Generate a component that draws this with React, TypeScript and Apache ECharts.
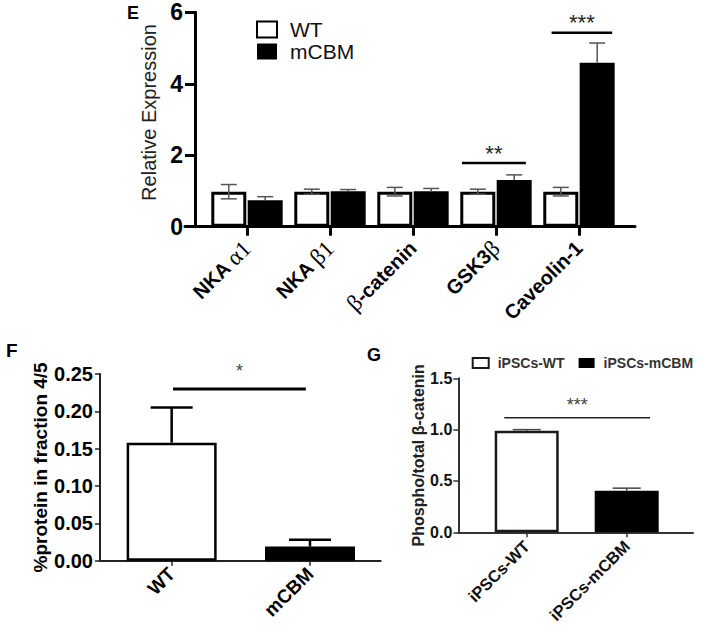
import React, { useEffect, useRef } from 'react';
import * as echarts from 'echarts';

// ---- Panel E data ----
const geneCategories = ['NKA α1', 'NKA β1', 'β-catenin', 'GSK3β', 'Caveolin-1'];
const wtExpression = [0.98, 0.98, 0.98, 0.98, 0.98];
const wtExpressionErr = [0.2, 0.07, 0.12, 0.07, 0.12];
const mcbmExpression = [0.74, 0.99, 0.99, 1.31, 4.59];
const mcbmExpressionErr = [0.1, 0.05, 0.08, 0.14, 0.55];
const sigE = [
  { from: 2.59, to: 3.36, at: 1.78, label: '**' },
  { from: 3.67, to: 4.4, at: 5.43, label: '***' },
];

// ---- Panel F data ----
const fractionCategories = ['WT', 'mCBM'];
const fractionValues = [0.158, 0.019];
const fractionErr = [0.047, 0.009];
const sigF = [{ from: 0.01, to: 0.97, at: 0.23, label: '*' }];

// ---- Panel G data ----
const ipscCategories = ['iPSCs-WT', 'iPSCs-mCBM'];
const phosphoValues = [0.99, 0.405];
const phosphoErr = [0.01, 0.025];
const sigG = [{ from: -0.224, to: 1.233, at: 1.116, label: '***' }];

const FONT = '"Liberation Sans", Arial, sans-serif';

function errorRenderer(offset: number, capHalf: number, color: string, width: number, twoSided: boolean) {
  return (params: any, api: any) => {
    const x = api.value(0);
    const v = api.value(1);
    const e = api.value(2);
    const top = api.coord([x, v + e]);
    const base = api.coord([x, twoSided ? v - e : v]);
    const cx = top[0] + offset;
    const st = { stroke: color, lineWidth: width };
    const children: any[] = [
      { type: 'line', shape: { x1: cx, y1: base[1], x2: cx, y2: top[1] }, style: st },
      { type: 'line', shape: { x1: cx - capHalf, y1: top[1], x2: cx + capHalf, y2: top[1] }, style: st },
    ];
    if (twoSided) {
      children.push({ type: 'line', shape: { x1: cx - capHalf, y1: base[1], x2: cx + capHalf, y2: base[1] }, style: st });
    }
    return { type: 'group', children };
  };
}

function sigRenderer(list: any[], color: string, lineWidth: number, textSize: number, textColor: string, lift: number) {
  return (params: any, api: any) => {
    const s = list[params.dataIndex];
    const a = api.coord([s.from, s.at]);
    const b = api.coord([s.to, s.at]);
    return {
      type: 'group',
      children: [
        { type: 'line', shape: { x1: a[0], y1: a[1], x2: b[0], y2: b[1] }, style: { stroke: color, lineWidth } },
        {
          type: 'text',
          x: (a[0] + b[0]) / 2,
          y: a[1] - lift,
          style: { text: s.label, fill: textColor, fontSize: textSize, fontFamily: FONT, align: 'center', verticalAlign: 'middle' },
        },
      ],
    };
  };
}

const richLabel = (name: string) =>
  name
    .split(/(α1|β1|β)/)
    .filter(Boolean)
    .map((p) => (/^(α1|β1|β)$/.test(p) ? `{g|${p}}` : `{b|${p}}`))
    .join('');

export default function App() {
  const ref = useRef<HTMLDivElement>(null);
  useEffect(() => {
    if (!ref.current) return;
    const chart = echarts.init(ref.current, null, { renderer: 'svg' });
    const idxE = geneCategories.map((_, i) => i);
    const idxF = fractionCategories.map((_, i) => i);
    const idxG = ipscCategories.map((_, i) => i);

    const option: any = {
      animation: false,
      backgroundColor: '#fff',
      textStyle: { fontFamily: FONT },
      grid: [
        { left: 185, width: 450, top: 12.3, height: 214.4 },
        { left: 100, width: 280.7, top: 374, height: 186.7 },
        { left: 458.3, width: 234.7, top: 378.3, height: 154 },
      ],
      legend: [
        {
          data: ['WT', 'mCBM'],
          orient: 'vertical',
          left: 251,
          top: 14,
          itemWidth: 20,
          itemHeight: 16,
          itemGap: 1,
          icon: 'rect',
          textStyle: { fontSize: 21, fontFamily: FONT, color: '#111', padding: [0, 0, 0, 8] },
        },
        {
          data: ['iPSCs-WT', 'iPSCs-mCBM'],
          orient: 'horizontal',
          left: 466.7,
          top: 351,
          width: 250,
          itemWidth: 16,
          itemHeight: 10,
          itemGap: 14,
          icon: 'rect',
          textStyle: { fontSize: 14, fontWeight: 'bold', fontFamily: FONT, color: '#333', padding: [0, 0, 0, 4] },
        },
      ],
      xAxis: [
        {
          type: 'value',
          gridIndex: 0,
          min: -0.747,
          max: 4.675,
          splitLine: { show: false },
          axisLine: { onZero: false, lineStyle: { color: '#000', width: 3 } },
          axisTick: { customValues: idxE, length: 9, lineStyle: { color: '#000', width: 3 } },
          axisLabel: {
            customValues: idxE,
            rotate: 45,
            margin: 18,
            formatter: (v: number) => richLabel(geneCategories[Math.round(v)] ?? ''),
            rich: {
              b: { fontFamily: FONT, fontWeight: 'bold', fontSize: 20, color: '#000' },
              g: { fontFamily: '"Liberation Serif", "DejaVu Serif", serif', fontWeight: 'normal', fontSize: 23, color: '#000' },
            },
          },
        },
        {
          type: 'value',
          gridIndex: 1,
          min: -0.518,
          max: 1.511,
          splitLine: { show: false },
          axisLine: { onZero: false, lineStyle: { color: '#222', width: 2 } },
          axisTick: { customValues: idxF, length: 5, lineStyle: { color: '#222', width: 1.5 } },
          axisLabel: {
            customValues: idxF,
            rotate: 45,
            margin: 10,
            fontSize: 19,
            fontWeight: 'bold',
            color: '#000',
            fontFamily: FONT,
            formatter: (v: number) => fractionCategories[Math.round(v)] ?? '',
          },
        },
        {
          type: 'value',
          gridIndex: 2,
          min: -0.684,
          max: 1.663,
          splitLine: { show: false },
          axisLine: { onZero: false, lineStyle: { color: '#333', width: 2 } },
          axisTick: { customValues: idxG, length: 5, lineStyle: { color: '#333', width: 1.5 } },
          axisLabel: {
            customValues: idxG,
            rotate: 45,
            margin: 11,
            fontSize: 16.5,
            fontWeight: 'bold',
            color: '#111',
            fontFamily: FONT,
            formatter: (v: number) => ipscCategories[Math.round(v)] ?? '',
          },
        },
      ],
      yAxis: [
        {
          type: 'value',
          gridIndex: 0,
          min: 0,
          max: 6,
          interval: 2,
          offset: -10,
          name: 'Relative Expression',
          nameLocation: 'middle',
          nameGap: 30,
          nameTextStyle: { fontSize: 20, fontFamily: FONT, color: '#222', padding: [0, 0, 0, 14] },
          splitLine: { show: false },
          axisLine: { show: true, onZero: false, lineStyle: { color: '#000', width: 3 } },
          axisTick: { show: true, length: 10, lineStyle: { color: '#000', width: 3 } },
          axisLabel: { fontSize: 23, fontWeight: 'bold', color: '#000', margin: 12, fontFamily: FONT },
        },
        {
          type: 'value',
          gridIndex: 1,
          min: 0,
          max: 0.25,
          interval: 0.05,
          name: '%protein in fraction 4/5',
          nameLocation: 'middle',
          nameGap: 49,
          nameTextStyle: { fontSize: 19, fontWeight: 'bold', fontFamily: FONT, color: '#000' },
          splitLine: { show: false },
          axisLine: { show: true, onZero: false, lineStyle: { color: '#222', width: 2 } },
          axisTick: { show: true, length: 5, lineStyle: { color: '#222', width: 1.5 } },
          axisLabel: {
            fontSize: 20,
            fontWeight: 'bold',
            color: '#000',
            margin: 7,
            fontFamily: FONT,
            formatter: (v: number) => v.toFixed(2),
          },
        },
        {
          type: 'value',
          gridIndex: 2,
          min: 0,
          max: 1.5,
          interval: 0.5,
          name: 'Phospho/total β-catenin',
          nameLocation: 'middle',
          nameGap: 32,
          nameTextStyle: { fontSize: 16, fontWeight: 'bold', fontFamily: FONT, color: '#222' },
          splitLine: { show: false },
          axisLine: { show: true, onZero: false, lineStyle: { color: '#333', width: 2 } },
          axisTick: { show: true, length: 5, lineStyle: { color: '#333', width: 1.5 } },
          axisLabel: {
            fontSize: 16,
            fontWeight: 'bold',
            color: '#111',
            margin: 6,
            fontFamily: FONT,
            formatter: (v: number) => v.toFixed(1),
          },
        },
      ],
      series: [
        {
          name: 'WT',
          type: 'bar',
          xAxisIndex: 0,
          yAxisIndex: 0,
          barWidth: 35,
          barGap: '4%',
          data: wtExpression.map((v, i) => [i, v]),
          itemStyle: { color: '#fff', borderColor: '#000', borderWidth: 3 },
        },
        {
          name: 'mCBM',
          type: 'bar',
          xAxisIndex: 0,
          yAxisIndex: 0,
          barWidth: 35,
          barGap: '4%',
          data: mcbmExpression.map((v, i) => [i, v]),
          itemStyle: { color: '#000', borderColor: '#000', borderWidth: 0 },
        },
        {
          type: 'custom',
          xAxisIndex: 0,
          yAxisIndex: 0,
          z: 5,
          encode: { x: 0, y: 1 },
          data: wtExpression.map((v, i) => [i, v, wtExpressionErr[i]]),
          renderItem: errorRenderer(-18.2, 8, '#555', 1.5, true),
        },
        {
          type: 'custom',
          xAxisIndex: 0,
          yAxisIndex: 0,
          z: 5,
          encode: { x: 0, y: 1 },
          data: mcbmExpression.map((v, i) => [i, v, mcbmExpressionErr[i]]),
          renderItem: errorRenderer(18.2, 8, '#555', 1.5, false),
        },
        {
          type: 'custom',
          xAxisIndex: 0,
          yAxisIndex: 0,
          z: 5,
          encode: { x: [0, 2], y: 1 },
          data: sigE.map((s) => [s.from, s.at, s.to]),
          renderItem: sigRenderer(sigE, '#000', 2.5, 22, '#222', 10),
        },
        {
          name: 'fraction',
          type: 'bar',
          xAxisIndex: 1,
          yAxisIndex: 1,
          barWidth: 90,
          data: fractionValues.map((v, i) => ({
            value: [i, v],
            itemStyle:
              i === 0
                ? { color: '#fff', borderColor: '#000', borderWidth: 2.5 }
                : { color: '#000', borderColor: '#000', borderWidth: 0 },
          })),
        },
        {
          type: 'custom',
          xAxisIndex: 1,
          yAxisIndex: 1,
          z: 5,
          encode: { x: 0, y: 1 },
          data: fractionValues.map((v, i) => [i, v, fractionErr[i]]),
          renderItem: errorRenderer(0, 21, '#000', 2.5, false),
        },
        {
          type: 'custom',
          xAxisIndex: 1,
          yAxisIndex: 1,
          z: 5,
          encode: { x: [0, 2], y: 1 },
          data: sigF.map((s) => [s.from, s.at, s.to]),
          renderItem: sigRenderer(sigF, '#000', 3, 18, '#444', 18),
        },
        {
          name: 'iPSCs-WT',
          type: 'bar',
          xAxisIndex: 2,
          yAxisIndex: 2,
          barWidth: 64,
          barGap: '-100%',
          data: [[0, phosphoValues[0]]],
          itemStyle: { color: '#fff', borderColor: '#1a1a1a', borderWidth: 2.5 },
        },
        {
          name: 'iPSCs-mCBM',
          type: 'bar',
          xAxisIndex: 2,
          yAxisIndex: 2,
          barWidth: 64,
          barGap: '-100%',
          data: [[1, phosphoValues[1]]],
          itemStyle: { color: '#000', borderColor: '#000', borderWidth: 0 },
        },
        {
          type: 'custom',
          xAxisIndex: 2,
          yAxisIndex: 2,
          z: 5,
          encode: { x: 0, y: 1 },
          data: phosphoValues.map((v, i) => [i, v, phosphoErr[i]]),
          renderItem: errorRenderer(0, 14, '#444', 1.5, false),
        },
        {
          type: 'custom',
          xAxisIndex: 2,
          yAxisIndex: 2,
          z: 5,
          encode: { x: [0, 2], y: 1 },
          data: sigG.map((s) => [s.from, s.at, s.to]),
          renderItem: sigRenderer(sigG, '#222', 1.5, 18, '#444', 13),
        },
      ],
      graphic: [
        { type: 'text', left: 127, top: 4, style: { text: 'E', fontSize: 18, fontWeight: 'bold', fontFamily: FONT, fill: '#000' } },
        { type: 'text', left: 6, top: 341, style: { text: 'F', fontSize: 19, fontWeight: 'bold', fontFamily: FONT, fill: '#000' } },
        { type: 'text', left: 367, top: 346, style: { text: 'G', fontSize: 18, fontWeight: 'bold', fontFamily: FONT, fill: '#000' } },
      ],
    };
    chart.setOption(option);
    return () => chart.dispose();
  }, []);
  return <div ref={ref} style={{ position: 'fixed', left: 0, top: 0, width: 702, height: 630 }} />;
}
